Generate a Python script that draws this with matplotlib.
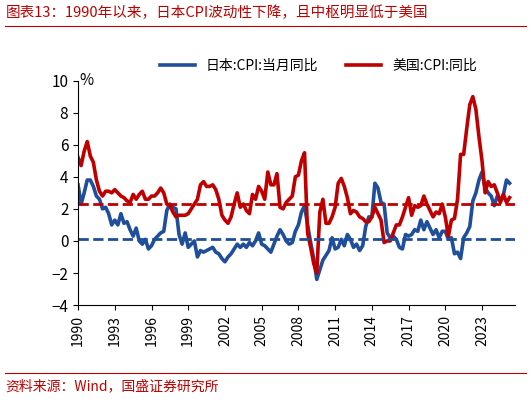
import numpy as np
import matplotlib.pyplot as plt

plt.rcParams['font.family'] = ['Noto Sans CJK SC', 'DejaVu Sans']

# quarterly readings, 1990Q1 .. 2025Q2
japan_cpi = [
    3.5, 2.3, 3.0, 3.8,  3.8, 3.4, 2.8, 2.6,  2.0, 2.1, 1.7, 1.0,  1.3, 1.0, 1.7, 1.1,
    1.2, 0.7, 0.3, 0.8,  0.0, -0.2, 0.1, -0.5, -0.3, 0.1, 0.3, 0.5, 0.6, 1.9, 2.3, 2.1,
    2.0, 0.4, -0.2, 0.5, -0.4, -0.2, 0.0, -1.0, -0.6, -0.7, -0.6, -0.5, -0.4, -0.7, -0.8, -1.1,
    -1.3, -1.0, -0.8, -0.5, -0.2, -0.4, -0.2, -0.4, -0.1, -0.3, 0.0, 0.5, -0.2, -0.3, -0.5, -0.7,
    -0.2, 0.3, 0.7, 0.4, 0.0, -0.2, -0.1, 0.6, 1.0, 1.8, 2.2, 1.0, -0.1, -1.1, -2.4, -1.8,
    -1.2, -0.9, -0.6, 0.2, -0.5, -0.4, 0.1, -0.3, 0.4, 0.1, -0.4, -0.2, -0.6, -0.3, 0.9, 1.5,
    1.5, 3.6, 3.3, 2.4, 2.3, 0.5, 0.2, 0.3, 0.1, -0.4, -0.5, 0.4, 0.3, 0.4, 0.7, 0.6,
    1.3, 0.7, 1.2, 0.8, 0.4, 0.7, 0.2, 0.6, 0.6, 0.1, 0.2, -0.8, -0.7, -1.1, 0.2, 0.5,
    0.9, 2.5, 3.0, 3.8, 4.3, 3.3, 3.0, 2.8, 2.2, 2.8, 2.5, 2.9, 3.8, 3.6,
]
us_cpi = [
    5.2, 4.7, 5.6, 6.2,  5.3, 4.9, 3.8, 3.1,  2.8, 3.1, 3.1, 3.0,  3.2, 3.0, 2.8, 2.7,
    2.5, 2.4, 2.9, 2.6,  2.9, 3.1, 2.6, 2.6,  2.8, 2.8, 3.0, 3.3,  3.0, 2.3, 2.2, 1.8,
    1.5, 1.6, 1.6, 1.6,  1.7, 2.0, 2.3, 2.6,  3.5, 3.7, 3.4, 3.4,  3.5, 3.2, 2.6, 1.6,
    1.3, 1.1, 1.5, 2.3,  3.0, 2.1, 2.3, 1.9,  1.7, 2.9, 2.6, 3.4,  3.1, 2.6, 4.3, 3.5,
    3.5, 4.2, 2.1, 2.0,  2.4, 2.6, 2.8, 4.0,  4.1, 5.0, 5.5, 0.5, -0.4, -1.4, -2.0, 1.8,
    2.6, 1.1, 1.1, 1.5,  2.1, 3.6, 3.9, 3.4,  2.7, 1.7, 1.9, 1.8,  1.5, 1.4, 1.2, 1.2,
    1.5, 2.1, 1.7, 1.3, -0.1, 0.0, 0.0, 0.5,  1.0, 1.0, 1.5, 2.1,  2.7, 1.6, 2.2, 2.1,
    2.2, 2.8, 2.3, 1.9,  1.5, 1.8, 1.7, 2.3,  1.5, 0.3, 1.3, 1.4,  2.6, 5.4, 5.4, 7.0,
    8.5, 9.0, 8.2, 6.5,  5.0, 3.0, 3.7, 3.4,  3.5, 3.0, 2.4, 2.9,  2.4, 2.7,
]
japan_mean = 0.1
us_mean = 2.3

t = 1990 + np.arange(len(japan_cpi)) / 4
red = '#C00000'
blue = '#1F4E9A'

fig, ax = plt.subplots(figsize=(5.31, 4.03), dpi=100)
fig.subplots_adjust(left=0.147, right=0.97, top=0.80, bottom=0.243)

ax.plot(t, japan_cpi, color=blue, lw=2.6, label='日本:CPI:当月同比')
ax.plot(t, us_cpi, color=red, lw=2.6, label='美国:CPI:同比')
ax.axhline(us_mean, color=red, lw=2, ls='--')
ax.axhline(japan_mean, color=blue, lw=2, ls='--')

ax.set_xlim(1990, 2025.7)
ax.set_ylim(-4, 10)
ax.set_xticks(range(1990, 2024, 3))
ax.set_xticklabels([str(y) for y in range(1990, 2024, 3)], rotation=90, fontsize=10)
ax.set_yticks(range(-4, 11, 2))
ax.tick_params(axis='y', labelsize=11)
for s in ['top', 'right']:
    ax.spines[s].set_visible(False)
ax.text(1990.1, 10, '%', fontsize=11, va='center', ha='left')

ax.legend(loc='lower center', bbox_to_anchor=(0.55, 0.98), ncol=2, frameon=False,
          fontsize=10, handlelength=2.5, columnspacing=2)

fig.text(0.01, 0.985, '图表13：1990年以来，日本CPI波动性下降，且中枢明显低于美国',
         color=red, fontsize=10.5, style='italic', va='top')
fig.add_artist(plt.Line2D([0.01, 0.99], [0.935, 0.935], color=red, lw=0.8))
fig.add_artist(plt.Line2D([0.01, 0.99], [0.075, 0.075], color=red, lw=0.8))
fig.text(0.01, 0.06, '资料来源：Wind，国盛证券研究所', color=red, fontsize=10,
         style='italic', va='top')

fig.savefig('out.png')
